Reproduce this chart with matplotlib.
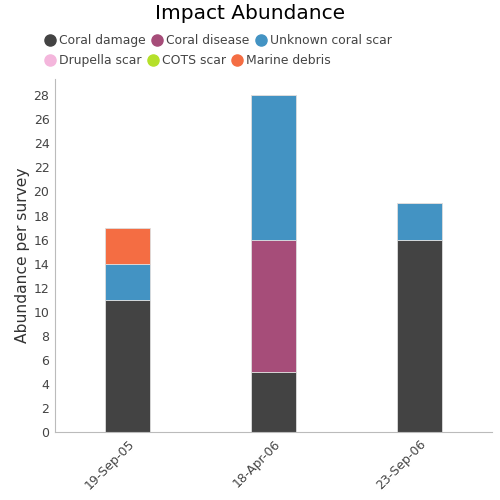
import numpy as np
import matplotlib.pyplot as plt
from matplotlib.lines import Line2D

# survey dates and per-category abundance
dates = ['19-Sep-05', '18-Apr-06', '23-Sep-06']
categories = ['Coral damage', 'Coral disease', 'Unknown coral scar',
              'Drupella scar', 'COTS scar', 'Marine debris']
coral_damage = [11, 5, 16]
coral_disease = [0, 11, 0]
unknown_scar = [3, 12, 3]
drupella_scar = [0, 0, 0]
cots_scar = [0, 0, 0]
marine_debris = [3, 0, 0]

colors = ['#434343', '#a64d79', '#4393c3', '#f4b6dc', '#b5e02a', '#f46d43']
series = [coral_damage, coral_disease, unknown_scar,
          drupella_scar, cots_scar, marine_debris]

plt.rcParams['font.family'] = 'DejaVu Sans'
fig = plt.figure(figsize=(5, 5), dpi=100)
ax = fig.add_axes([0.11, 0.136, 0.874, 0.706])

x = np.arange(len(dates))
bottom = np.zeros(len(dates))
for vals, c in zip(series, colors):
    vals = np.array(vals, dtype=float)
    ax.bar(x, vals, width=0.31, bottom=bottom, color=c,
           edgecolor='#dddddd', linewidth=0.6)
    bottom += vals

ax.set_xlim(-0.5, 2.5)
ax.set_ylim(0, 29.35)
ax.set_yticks(range(0, 29, 2))
ax.set_xticks(x)
ax.set_xticklabels(dates, rotation=45, ha='right', rotation_mode='anchor')
ax.tick_params(length=0, labelsize=9, colors='#444444', pad=4)
ax.tick_params(axis='x', pad=4)
for s in ['top', 'right']:
    ax.spines[s].set_visible(False)
for s in ['left', 'bottom']:
    ax.spines[s].set_color('#bbbbbb')
ax.set_ylabel('Abundance per survey', fontsize=11.2, color='#333333',
              va='center')
ax.yaxis.set_label_coords(-0.0755, 0.5)

fig.text(0.5, 0.973, 'Impact Abundance', ha='center', va='center', fontsize=14.5)

handles = [Line2D([], [], marker='o', linestyle='', markersize=8,
                  markerfacecolor=c, markeredgecolor=c) for c in colors]
kw = dict(frameon=False, fontsize=8.9, handletextpad=0.2, columnspacing=0.45,
          handlelength=1.0, labelcolor='#444444', borderaxespad=0)
leg1 = fig.legend(handles[:3], categories[:3], ncol=3, loc='upper left',
                  bbox_to_anchor=(0.078, 0.942), **kw)
leg2 = fig.legend(handles[3:], categories[3:], ncol=3, loc='upper left',
                  bbox_to_anchor=(0.078, 0.902), **kw)

fig.savefig('out.png', dpi=100)
